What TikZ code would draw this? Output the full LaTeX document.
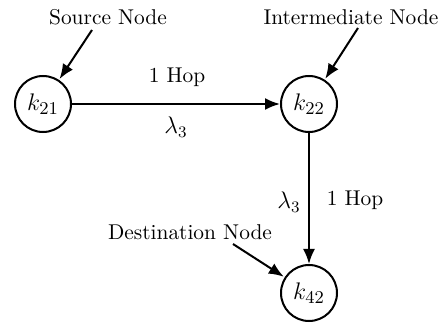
\documentclass[tikz,border=0pt]{standalone}
\usetikzlibrary{arrows.meta}
\begin{document}
\begin{tikzpicture}[x=0.5pt,y=-0.5pt,
  every node/.style={font=\fontsize{10.7}{13}\selectfont},
  state/.style={draw,circle,line width=1pt,minimum size=28pt,inner sep=0pt,font=\fontsize{12.2}{14}\selectfont},
  lbl/.style={inner sep=0pt},
  mlbl/.style={inner sep=0pt,font=\fontsize{12}{14}\selectfont},
  conn/.style={line width=1pt,-{Latex[length=7.5pt,width=6pt]}},
  pointer/.style={line width=1pt,-{Latex[length=7.5pt,width=6pt]},shorten >=0.5pt}]
\useasboundingbox (0,0) rectangle (445,326);
\node[state] (k21) at (43,104) {$k_{21}$};
\node[state] (k22) at (309,104) {$k_{22}$};
\node[state] (k42) at (309,293) {$k_{42}$};
\node[lbl] (src) at (108,17) {Source Node};
\node[lbl] (mid) at (351,17) {Intermediate Node};
\node[lbl] (dst) at (190,232) {Destination Node};
\node[lbl] (h1) at (177,77) {1 Hop};
\node[mlbl] (l1) at (176,127) {$\lambda_3$};
\node[mlbl] (l2) at (289,202) {$\lambda_3$};
\node[lbl] (h2) at (355,200) {1 Hop};
\coordinate (sa) at (92,30);
\coordinate (ma) at (358,28);
\coordinate (da) at (233,244);
\draw[conn] (k21) -- (k22);
\draw[conn] (k22) -- (k42);
\draw[pointer] (sa) -- (k21);
\draw[pointer] (ma) -- (k22);
\draw[pointer] (da) -- (k42);
\end{tikzpicture}
\end{document}
